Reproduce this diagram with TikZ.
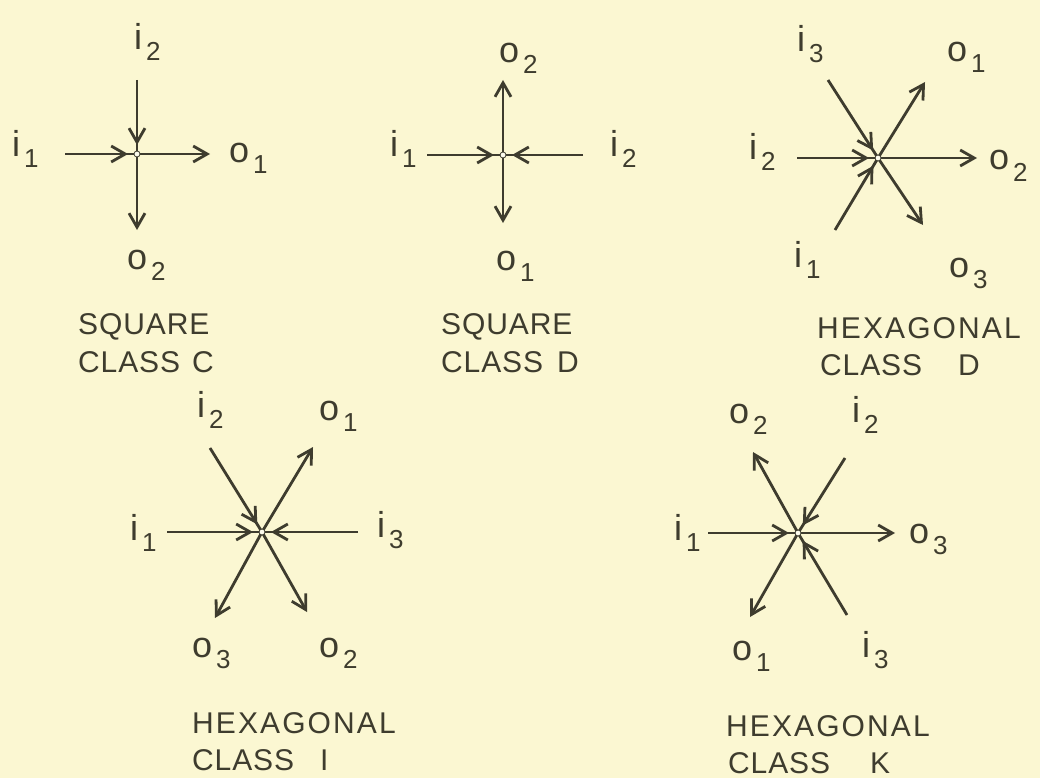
\documentclass[tikz,border=0pt]{standalone}
\usepackage{fontspec}
\setmainfont{Liberation Sans}
\newfontfamily\capfont[LetterSpace=3]{Liberation Sans}
\newfontfamily\capwide[LetterSpace=7]{Liberation Sans}
\usetikzlibrary{arrows.meta,decorations.markings}
\definecolor{bg}{RGB}{251,247,210}
\definecolor{ink}{RGB}{62,60,46}
\newcommand\ioLab[2]{#1\kern4pt\raisebox{-11pt}{\fontsize{26}{26}\selectfont #2}}
\tikzset{
  lbl/.style={anchor=base west, inner sep=0, text=ink, font=\fontsize{36}{36}\selectfont},
  cls/.style={anchor=base west, inner sep=0, text=ink, font=\capfont\fontsize{30}{36}\selectfont},
  hub/.style={circle, draw=ink, line width=0.8pt, fill=bg!40!white, inner sep=0, minimum size=6pt},
  outarr/.style={draw=ink, line width=2.8pt, -{Straight Barb[length=14pt,width=16pt]}},
  inarr/.style={draw=ink, line width=2.8pt, postaction={decorate},
    decoration={markings, mark=at position -9pt with {\arrow{Straight Barb[length=14pt,width=16pt]}}}},
}
\begin{document}
\begin{tikzpicture}[x=1pt,y=-1pt]
\fill[bg] (0,0) rectangle (1040,778);
\useasboundingbox (0,0) rectangle (1040,778);

% ---------- Square class C ----------
\coordinate (c1) at (137,154);
\coordinate (a1i1) at (65,154);
\coordinate (a1i2) at (137,80);
\coordinate (a1o1) at (210,154);
\coordinate (a1o2) at (137,230);
\draw[inarr] (a1i1) -- (c1);
\draw[inarr] (a1i2) -- (c1);
\draw[outarr] (c1) -- (a1o1);
\draw[outarr] (c1) -- (a1o2);
\node[hub] (h1) at (c1) {};
\node[lbl] (l1i1) at (12,157) {\ioLab{i}{1}};
\node[lbl] (l1i2) at (134,50) {\ioLab{i}{2}};
\node[lbl] (l1o1) at (229,163) {\ioLab{o}{1}};
\node[lbl] (l1o2) at (127,269) {\ioLab{o}{2}};
\node[cls] (k1a) at (78,334) {SQUARE};
\node[cls] (k1b) at (78,372) {CLASS\hspace{12pt}C};

% ---------- Square class D ----------
\coordinate (c2) at (503,155);
\coordinate (a2i1) at (427,155);
\coordinate (a2i2) at (583,155);
\coordinate (a2o1) at (503,223);
\coordinate (a2o2) at (503,80);
\draw[inarr] (a2i1) -- (c2);
\draw[inarr] (a2i2) -- (c2);
\draw[outarr] (c2) -- (a2o1);
\draw[outarr] (c2) -- (a2o2);
\node[hub] (h2) at (c2) {};
\node[lbl] (l2i1) at (390,157) {\ioLab{i}{1}};
\node[lbl] (l2i2) at (610,157) {\ioLab{i}{2}};
\node[lbl] (l2o1) at (496,270) {\ioLab{o}{1}};
\node[lbl] (l2o2) at (499,63) {\ioLab{o}{2}};
\node[cls] (k2a) at (441,334) {SQUARE};
\node[cls] (k2b) at (441,372) {CLASS\hspace{14pt}D};

% ---------- Hexagonal class D ----------
\coordinate (c3) at (878,158);
\coordinate (a3i1) at (835,230);
\coordinate (a3i2) at (797,158);
\coordinate (a3i3) at (828,80);
\coordinate (a3o1) at (925,82);
\coordinate (a3o2) at (977,158);
\coordinate (a3o3) at (923,225);
\draw[inarr] (a3i1) -- (c3);
\draw[inarr] (a3i2) -- (c3);
\draw[inarr] (a3i3) -- (c3);
\draw[outarr] (c3) -- (a3o1);
\draw[outarr] (c3) -- (a3o2);
\draw[outarr] (c3) -- (a3o3);
\node[hub] (h3) at (c3) {};
\node[lbl] (l3i1) at (794,267) {\ioLab{i}{1}};
\node[lbl] (l3i2) at (749,160) {\ioLab{i}{2}};
\node[lbl] (l3i3) at (797,52) {\ioLab{i}{3}};
\node[lbl] (l3o1) at (947,62) {\ioLab{o}{1}};
\node[lbl] (l3o2) at (989,170) {\ioLab{o}{2}};
\node[lbl] (l3o3) at (949,277) {\ioLab{o}{3}};
\node[cls] (k3a) at (817,338) {\capwide HEXAGONAL};
\node[cls] (k3b) at (820,375) {CLASS\hspace{36pt}D};

% ---------- Hexagonal class I ----------
\coordinate (c4) at (262,532);
\coordinate (a4i1) at (167,532);
\coordinate (a4i2) at (210,448);
\coordinate (a4i3) at (358,532);
\coordinate (a4o1) at (313,447);
\coordinate (a4o2) at (307,612);
\coordinate (a4o3) at (215,618);
\draw[inarr] (a4i1) -- (c4);
\draw[inarr] (a4i2) -- (c4);
\draw[inarr] (a4i3) -- (c4);
\draw[outarr] (c4) -- (a4o1);
\draw[outarr] (c4) -- (a4o2);
\draw[outarr] (c4) -- (a4o3);
\node[hub] (h4) at (c4) {};
\node[lbl] (l4i1) at (130,540) {\ioLab{i}{1}};
\node[lbl] (l4i2) at (197,417) {\ioLab{i}{2}};
\node[lbl] (l4i3) at (377,537) {\ioLab{i}{3}};
\node[lbl] (l4o1) at (319,420) {\ioLab{o}{1}};
\node[lbl] (l4o2) at (319,657) {\ioLab{o}{2}};
\node[lbl] (l4o3) at (192,657) {\ioLab{o}{3}};
\node[cls] (k4a) at (192,733) {\capwide HEXAGONAL};
\node[cls] (k4b) at (192,770) {CLASS\hspace{26pt}I};

% ---------- Hexagonal class K ----------
\coordinate (c5) at (798,533);
\coordinate (a5i1) at (708,533);
\coordinate (a5i2) at (845,458);
\coordinate (a5i3) at (847,615);
\coordinate (a5o1) at (750,617);
\coordinate (a5o2) at (753,452);
\coordinate (a5o3) at (895,533);
\draw[inarr] (a5i1) -- (c5);
\draw[inarr] (a5i2) -- (c5);
\draw[inarr] (a5i3) -- (c5);
\draw[outarr] (c5) -- (a5o1);
\draw[outarr] (c5) -- (a5o2);
\draw[outarr] (c5) -- (a5o3);
\node[hub] (h5) at (c5) {};
\node[lbl] (l5i1) at (674,540) {\ioLab{i}{1}};
\node[lbl] (l5i2) at (852,422) {\ioLab{i}{2}};
\node[lbl] (l5i3) at (862,657) {\ioLab{i}{3}};
\node[lbl] (l5o1) at (732,660) {\ioLab{o}{1}};
\node[lbl] (l5o2) at (729,423) {\ioLab{o}{2}};
\node[lbl] (l5o3) at (909,543) {\ioLab{o}{3}};
\node[cls] (k5a) at (726,736) {\capwide HEXAGONAL};
\node[cls] (k5b) at (728,773) {CLASS\hspace{40pt}K};
\end{tikzpicture}
\end{document}
